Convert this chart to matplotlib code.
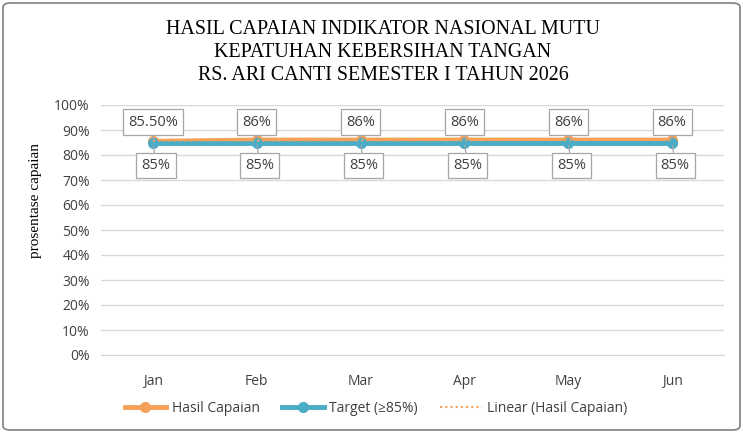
import numpy as np
import matplotlib
matplotlib.use('Agg')
from matplotlib import pyplot as plt
from matplotlib.patches import FancyBboxPatch
from matplotlib.lines import Line2D

months = ['Jan', 'Feb', 'Mar', 'Apr', 'May', 'Jun']
hasil = [85.5, 86, 86, 86, 86, 86]
hasil_labels = ['85.50%', '86%', '86%', '86%', '86%', '86%']
target = [85, 85, 85, 85, 85, 85]
target_labels = ['85%', '85%', '85%', '85%', '85%', '85%']

ORANGE = '#F4A259'
TEAL = '#4BACC6'
W, H = 743, 433

fig = plt.figure(figsize=(W / 100, H / 100), dpi=100)
ax = fig.add_axes([101 / W, (H - 355) / H, (724 - 101) / W, (355 - 105) / H])

x = np.arange(len(months))
ax.plot(x, hasil, color=ORANGE, lw=3.5, marker='o', ms=7, zorder=3)
ax.plot(x, target, color=TEAL, lw=3.5, marker='o', ms=7, zorder=4)
# linear trend of hasil
k, b = np.polyfit(x, hasil, 1)
ax.plot(x, k * x + b, color=ORANGE, lw=1.5, ls=(0, (1, 1.5)), zorder=5)

box = dict(boxstyle='square,pad=0.35', fc='white', ec='#A6A6A6', lw=0.9)
arr = dict(arrowstyle='-', color='#A6A6A6', lw=0.9, shrinkA=0, shrinkB=2)
for i in x:
    ax.annotate(hasil_labels[i], (i, hasil[i]), xytext=(i, 93.2), ha='center', va='center',
                fontsize=10.5, color='#404040', fontfamily='Open Sans', bbox=box,
                arrowprops=arr, zorder=6)
    ax.annotate(target_labels[i], (i, target[i]), xytext=(i + 0.03, 75.8), ha='center', va='center',
                fontsize=10.5, color='#404040', fontfamily='Open Sans', bbox=box,
                arrowprops=arr, zorder=6)

ax.set_xlim(-0.5, 5.5)
ax.set_ylim(0, 100)
ax.set_yticks(np.arange(0, 101, 10))
ax.set_yticklabels(['{}%'.format(v) for v in range(0, 101, 10)])
ax.set_xticks(x)
ax.set_xticklabels(months)
ax.yaxis.grid(True, color='#D9D9D9', lw=1)
ax.set_axisbelow(True)
for s in ['top', 'right', 'left']:
    ax.spines[s].set_visible(False)
ax.spines['bottom'].set_color('#D9D9D9')
ax.tick_params(length=0, labelsize=10, colors='#404040', pad=8)
for lab in ax.get_xticklabels() + ax.get_yticklabels():
    lab.set_fontfamily('Open Sans')
ax.tick_params(axis='x', pad=14)

ax.set_ylabel('prosentase capaian', fontfamily='Liberation Serif', fontsize=11, color='#000000')
ax.yaxis.set_label_coords(-0.095, 0.62)

for i, line in enumerate(['HASIL CAPAIAN INDIKATOR NASIONAL MUTU',
                          'KEPATUHAN KEBERSIHAN TANGAN',
                          'RS. ARI CANTI SEMESTER I TAHUN 2026']):
    fig.text(383 / W, 1 - (30 + 22.5 * i) / H, line, ha='center', va='center',
             fontfamily='Liberation Serif', fontsize=14.4, color='#000000')

handles = [Line2D([], [], color=ORANGE, lw=3.5, marker='o', ms=7),
           Line2D([], [], color=TEAL, lw=3.5, marker='o', ms=7),
           Line2D([], [], color=ORANGE, lw=1.5, ls=(0, (1, 1.5)))]
leg = fig.legend(handles, ['Hasil Capaian', 'Target (≥85%)', 'Linear (Hasil Capaian)'],
                 loc='center', bbox_to_anchor=(376 / W, 1 - 408 / H), ncol=3, frameon=False,
                 prop={'family': 'Open Sans', 'size': 10}, handlelength=3, columnspacing=1.6,
                 handletextpad=0.4)
for t in leg.get_texts():
    t.set_color('#404040')

fig.patches.append(FancyBboxPatch((3 / W, 3 / H), 1 - 6 / W, 1 - 6 / H,
                                  boxstyle='round,pad=0,rounding_size=0.01',
                                  transform=fig.transFigure, fill=False, ec='#808080', lw=1.2))

fig.savefig('out.png', dpi=100)
